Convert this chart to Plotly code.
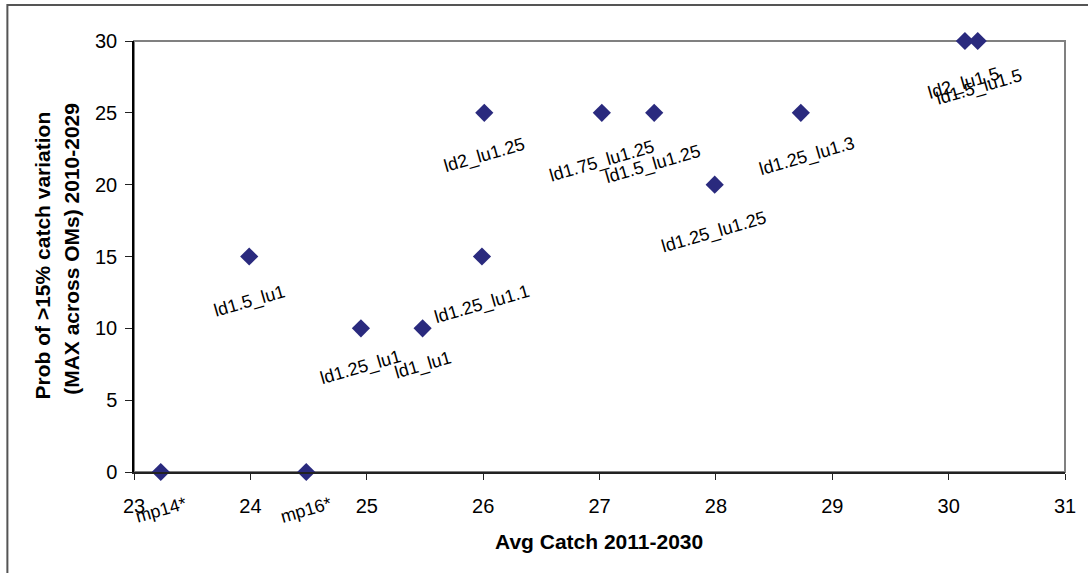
import plotly.graph_objects as go

# Management procedure results: average catch vs. probability of >15% catch change
procedures = [
    "mp14*", "mp16*", "ld1.5_lu1", "ld1.25_lu1", "ld1_lu1", "ld1.25_lu1.1",
    "ld2_lu1.25", "ld1.75_lu1.25", "ld1.5_lu1.25", "ld1.25_lu1.25",
    "ld1.25_lu1.3", "ld2_lu1.5", "ld1.5_lu1.5",
]
avg_catch = [
    23.23, 24.48, 23.99, 24.95, 25.48, 25.99,
    26.01, 27.02, 27.47, 27.99,
    28.73, 30.14, 30.25,
]
prob_variation = [
    0, 0, 15, 10, 10, 15,
    25, 25, 25, 20,
    25, 30, 30,
]

# label placement (pixel shifts from each marker)
label_dx = [0, 0, 0, 0, 0, 0, 0, 0, -1, -1, 6, -1, 1]
label_dy = [38, 38, 45, 39, 37, 48, 43, 49, 52, 48, 44, 42, 46]

x_ticks = [23, 24, 25, 26, 27, 28, 29, 30, 31]
y_ticks = [0, 5, 10, 15, 20, 25, 30]

FONT = "Liberation Sans, Arial, sans-serif"

fig = go.Figure()
fig.add_trace(go.Scatter(
    x=avg_catch, y=prob_variation, mode="markers",
    marker=dict(symbol="diamond", size=14, color="#2a2a7e", line=dict(width=0)),
    cliponaxis=False, showlegend=False, hoverinfo="text", text=procedures,
))

for name, xv, yv, dx, dy in zip(procedures, avg_catch, prob_variation, label_dx, label_dy):
    fig.add_annotation(
        x=xv, y=yv, xref="x", yref="y", text=name, showarrow=False,
        textangle=-16, xshift=dx, yshift=-dy,
        font=dict(family=FONT, size=18, color="#000000"),
    )

# two-line y-axis title
fig.add_annotation(
    x=-0.0986, y=0.503, xref="paper", yref="paper", xanchor="center", yanchor="middle",
    text="<b>Prob of >15% catch variation</b>", textangle=-90, showarrow=False,
    font=dict(family=FONT, size=21, color="#000000"),
)
fig.add_annotation(
    x=-0.0665, y=0.518, xref="paper", yref="paper", xanchor="center", yanchor="middle",
    text="<b>(MAX across OMs) 2010-2029</b>", textangle=-90, showarrow=False,
    font=dict(family=FONT, size=21, color="#000000"),
)
fig.add_annotation(
    x=0.499, y=-0.162, xref="paper", yref="paper", xanchor="center", yanchor="middle",
    text="<b>Avg Catch 2011-2030</b>", showarrow=False,
    font=dict(family=FONT, size=21, color="#000000"),
)

# plot-area frame and outer chart frame
fig.add_shape(type="rect", xref="paper", yref="paper", x0=0, y0=0, x1=1, y1=1,
              line=dict(color="#808080", width=2), layer="below")
fig.add_shape(type="rect", xref="paper", yref="paper", x0=-0.136, y0=-0.5, x1=1.3, y1=1.0835,
              line=dict(color="#555555", width=2), layer="below")

fig.update_xaxes(
    range=[23, 31], tickvals=x_ticks, ticktext=[str(v) for v in x_ticks],
    showgrid=False, zeroline=False, showline=True, linecolor="#222222", linewidth=1.5,
    ticks="outside", ticklen=6, tickcolor="#222222", ticklabelstandoff=9,
    tickfont=dict(family=FONT, size=20, color="#000000"),
)
fig.update_yaxes(
    range=[0, 30], tickvals=y_ticks, ticktext=[str(v) for v in y_ticks],
    showgrid=False, zeroline=False, showline=True, linecolor="#000000", linewidth=1.5,
    ticks="outside", ticklen=7, tickcolor="#222222", ticklabelstandoff=4,
    tickfont=dict(family=FONT, size=20, color="#000000"),
)

fig.update_layout(
    width=1088, height=573,
    margin=dict(l=134, r=21, t=41, b=101),
    paper_bgcolor="#ffffff", plot_bgcolor="#ffffff",
    font=dict(family=FONT),
)

fig.write_html("out.html")
